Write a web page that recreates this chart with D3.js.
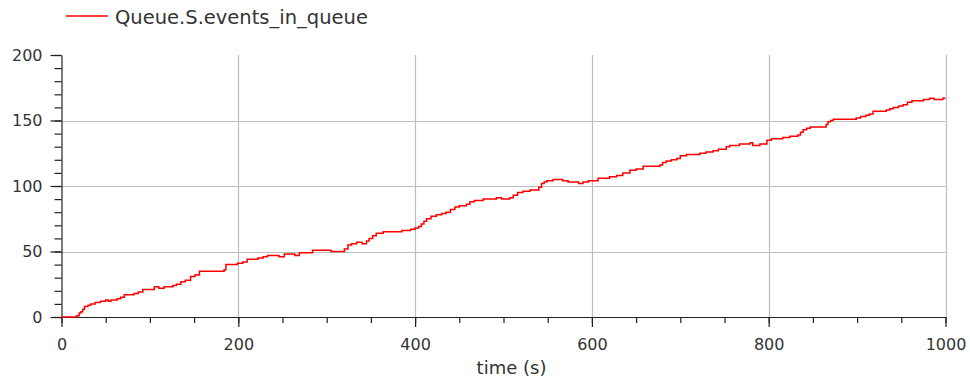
<!DOCTYPE html>
<html>
<head>
<meta charset="utf-8">
<script src="https://cdn.jsdelivr.net/npm/d3@7"></script>
<style>
  html, body { margin: 0; padding: 0; background: #fff; }
  svg { display: block; }
  text { font-family: "DejaVu Sans", sans-serif; fill: #333; }
</style>
</head>
<body>
<svg id="chart" width="970" height="385"></svg>
<script>
// Simulation output: number of events waiting in the queue over time.
const seriesName = "Queue.S.events_in_queue";
const times = [
  0, 16, 17, 20, 22, 24, 26, 30, 33, 38, 44, 50, 53, 56, 63, 67, 71, 76, 82, 87,
  92, 98, 105, 110, 116, 121, 126, 130, 135, 140, 146, 151, 156, 162, 184, 186, 192, 199, 205, 210,
  216, 222, 228, 233, 240, 246, 252, 260, 264, 269, 275, 284, 290, 305, 320, 324, 328, 334, 340, 345,
  348, 352, 356, 364, 379, 385, 395, 400, 404, 407, 410, 413, 418, 424, 430, 435, 440, 445, 450, 458,
  462, 467, 477, 492, 498, 507, 511, 516, 522, 530, 540, 543, 546, 549, 556, 567, 573, 585, 590, 596,
  607, 620, 628, 635, 643, 650, 658, 677, 680, 684, 690, 696, 700, 707, 722, 729, 737, 743, 752, 756,
  767, 779, 782, 790, 798, 803, 816, 824, 833, 836, 839, 843, 847, 865, 867, 870, 873, 899, 904, 910,
  914, 918, 933, 937, 941, 947, 952, 957, 962, 975, 982, 987, 997, 1000
];
const counts = [
  0, 0, 1, 3, 4, 6, 8, 9, 10, 11, 12, 13, 12, 13, 14, 15, 17, 17, 18, 19,
  21, 21, 23, 22, 23, 23, 24, 25, 27, 28, 31, 32, 35, 35, 36, 40, 40, 41, 42, 44,
  44, 45, 46, 47, 47, 46, 48, 48, 47, 49, 49, 51, 51, 50, 52, 55, 56, 57, 56, 58,
  60, 62, 64, 65, 65, 66, 67, 68, 69, 71, 73, 75, 77, 78, 79, 80, 82, 84, 85, 86,
  88, 89, 90, 91, 90, 91, 93, 95, 96, 97, 99, 102, 103, 104, 105, 104, 103, 102, 103, 104,
  106, 107, 108, 110, 112, 113, 115, 116, 118, 119, 120, 121, 123, 124, 125, 126, 127, 128, 130, 131,
  132, 133, 131, 132, 135, 136, 137, 138, 139, 141, 143, 144, 145, 147, 149, 150, 151, 152, 153, 154,
  155, 157, 158, 159, 160, 161, 162, 164, 165, 166, 167, 166, 167, 167
];
const xMajorTicks = [0, 200, 400, 600, 800, 1000];
const yMajorTicks = [0, 50, 100, 150, 200];
const xTitle = "time (s)";

const data = times.map((t, i) => ({ t, v: counts[i] }));

const svg = d3.select("#chart");
const plotLeft = 61.5, plotRight = 945.5, plotTop = 55, plotBottom = 317;

const x = d3.scaleLinear().domain([0, 1000]).range([plotLeft, plotRight]);
const y = d3.scaleLinear().domain([0, 200]).range([plotBottom, plotTop]);

// Grid lines
const grid = svg.append("g").attr("stroke", "#bdbdbd").attr("stroke-width", 1.2);
grid.selectAll("line.v").data(xMajorTicks.filter(d => d > 0)).join("line")
  .attr("x1", d => Math.round(x(d)) + 0.5).attr("x2", d => Math.round(x(d)) + 0.5)
  .attr("y1", plotTop).attr("y2", plotBottom);
grid.selectAll("line.h").data(yMajorTicks.filter(d => d > 0 && d < 200)).join("line")
  .attr("x1", plotLeft).attr("x2", plotRight)
  .attr("y1", d => Math.round(y(d)) + 0.5).attr("y2", d => Math.round(y(d)) + 0.5);

// Minor ticks
const xMinor = d3.range(0, 1001, 50);
const yMinor = d3.range(0, 201, 10);
svg.append("g").attr("transform", `translate(0,${plotBottom})`)
  .call(d3.axisBottom(x).tickValues(xMinor).tickSize(6).tickSizeOuter(0).tickFormat(""))
  .call(g => g.select(".domain").remove());
svg.append("g").attr("transform", `translate(${plotLeft},0)`)
  .call(d3.axisLeft(y).tickValues(yMinor).tickSize(7).tickSizeOuter(0).tickFormat(""))
  .call(g => g.select(".domain").remove());

// Major axes
svg.append("g").attr("transform", `translate(0,${plotBottom})`)
  .call(d3.axisBottom(x).tickValues(xMajorTicks).tickSize(10).tickSizeOuter(0).tickPadding(12)
    .tickFormat(d3.format("d")));
svg.append("g").attr("transform", `translate(${plotLeft},0)`)
  .call(d3.axisLeft(y).tickValues(yMajorTicks).tickSize(11).tickSizeOuter(0).tickPadding(8)
    .tickFormat(d3.format("d")));

svg.selectAll(".tick line, .domain").attr("stroke", "#222").attr("stroke-width", 1.2);
svg.selectAll(".tick text").style("font-family", "DejaVu Sans").style("font-size", "16px").attr("fill", "#333");

// Series
const line = d3.line().x(d => x(d.t)).y(d => y(d.v)).curve(d3.curveStepAfter);
svg.append("path").datum(data)
  .attr("fill", "none").attr("stroke", "#ff0000").attr("stroke-width", 1.5)
  .attr("d", line);

// Axis title
svg.append("text").attr("x", 511.5).attr("y", 374).attr("text-anchor", "middle")
  .style("font-size", "18px").text(xTitle);

// Legend
svg.append("line").attr("x1", 66).attr("x2", 108).attr("y1", 16).attr("y2", 16)
  .attr("stroke", "#ff0000").attr("stroke-width", 1.5);
svg.append("text").attr("x", 115).attr("y", 24).style("font-size", "19.5px").text(seriesName);
</script>
</body>
</html>
